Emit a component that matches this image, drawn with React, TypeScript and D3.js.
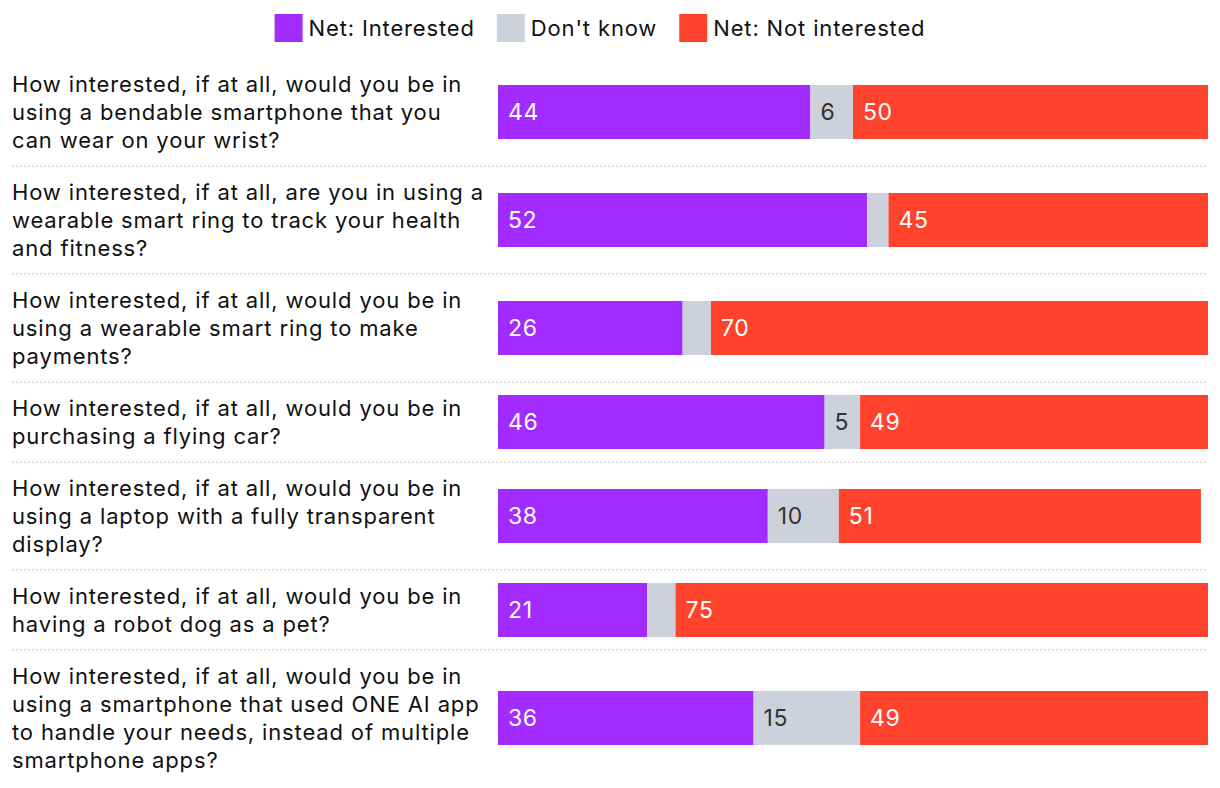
import React, { useRef, useEffect } from 'react';
import * as d3 from 'd3';

const questions: string[][] = [
  ['How interested, if at all, would you be in', 'using a bendable smartphone that you', 'can wear on your wrist?'],
  ['How interested, if at all, are you in using a', 'wearable smart ring to track your health', 'and fitness?'],
  ['How interested, if at all, would you be in', 'using a wearable smart ring to make', 'payments?'],
  ['How interested, if at all, would you be in', 'purchasing a flying car?'],
  ['How interested, if at all, would you be in', 'using a laptop with a fully transparent', 'display?'],
  ['How interested, if at all, would you be in', 'having a robot dog as a pet?'],
  ['How interested, if at all, would you be in', 'using a smartphone that used ONE AI app', 'to handle your needs, instead of multiple', 'smartphone apps?'],
];
const interested = [44, 52, 26, 46, 38, 21, 36];
const dontKnow = [6, 3, 4, 5, 10, 4, 15];
const notInterested = [50, 45, 70, 49, 51, 75, 49];

const seriesNames = ['Net: Interested', "Don't know", 'Net: Not interested'];
const seriesColors = ['#a22bff', '#cdd1db', '#ff432c'];
const labelColors = ['#ffffff', '#333333', '#ffffff'];

const FONT = 'Inter, "Noto Sans", sans-serif';

const App = () => {
  const svgRef = useRef<SVGSVGElement>(null);

  useEffect(() => {
    const width = 1220;
    const height = 788;
    const lineH = 28;
    const pad = 12;
    const barH = 54;
    const top = 58;

    const svg = d3.select(svgRef.current);
    svg.selectAll('*').remove();
    svg.attr('viewBox', `0 0 ${width} ${height}`);

    const x = d3.scaleLinear().domain([0, 100]).range([498, 1208]);

    const rows = questions.map((lines, i) => ({
      lines,
      values: [interested[i], dontKnow[i], notInterested[i]],
      h: Math.max(lines.length * lineH, barH) + pad * 2,
    }));
    let acc = top;
    const rowTops = rows.map((r) => {
      const t = acc;
      acc += r.h;
      return t;
    });

    // legend
    const legend = svg.append('g')
      .attr('font-family', FONT)
      .attr('font-size', 22)
      .attr('letter-spacing', 0.85);
    let lx = 0;
    seriesNames.forEach((name, i) => {
      const g = legend.append('g').attr('transform', `translate(${lx},0)`);
      g.append('rect').attr('x', 0).attr('y', 14).attr('width', 28).attr('height', 28).attr('fill', seriesColors[i]);
      const t = g.append('text').attr('x', 34).attr('y', 35.5).attr('fill', '#111').text(name);
      const w = (t.node() as SVGTextElement).getComputedTextLength();
      lx += 34 + w + 22;
    });
    const legendW = lx - 22;
    legend.attr('transform', `translate(${600 - legendW / 2},0)`);

    rows.forEach((r, i) => {
      const y0 = rowTops[i];
      const cy = y0 + r.h / 2;
      const g = svg.append('g');

      // separators between rows
      if (i > 0) {
        g.append('line')
          .attr('x1', 12).attr('x2', 1208)
          .attr('y1', y0).attr('y2', y0)
          .attr('stroke', '#d6d6d6')
          .attr('stroke-width', 1.5)
          .attr('stroke-dasharray', '2,2');
      }

      // question label
      const txt = g.append('text')
        .attr('font-family', FONT)
        .attr('font-size', 22)
        .attr('letter-spacing', 0.85)
        .attr('fill', '#111');
      const blockTop = cy - (r.lines.length * lineH) / 2;
      r.lines.forEach((ln, k) => {
        txt.append('tspan')
          .attr('x', 12)
          .attr('y', blockTop + k * lineH + lineH / 2 + 7.5)
          .text(ln);
      });

      // stacked bar
      let cum = 0;
      r.values.forEach((v, s) => {
        const x0 = x(cum);
        const x1 = x(cum + v);
        cum += v;
        g.append('rect')
          .attr('x', x0)
          .attr('y', cy - barH / 2)
          .attr('width', x1 - x0)
          .attr('height', barH)
          .attr('fill', seriesColors[s]);
        if (v >= 5) {
          g.append('text')
            .attr('x', x0 + 10)
            .attr('y', cy + 7.5)
            .attr('font-family', FONT)
            .attr('font-size', 23)
            .attr('letter-spacing', 0.6)
            .attr('fill', labelColors[s])
            .text(v);
        }
      });
    });
  }, []);

  return (
    <div>
      <style>{'body{margin:0;background:#fff}'}</style>
      <svg ref={svgRef} width={1220} height={788} style={{ display: 'block' }} />
    </div>
  );
};

export default App;
